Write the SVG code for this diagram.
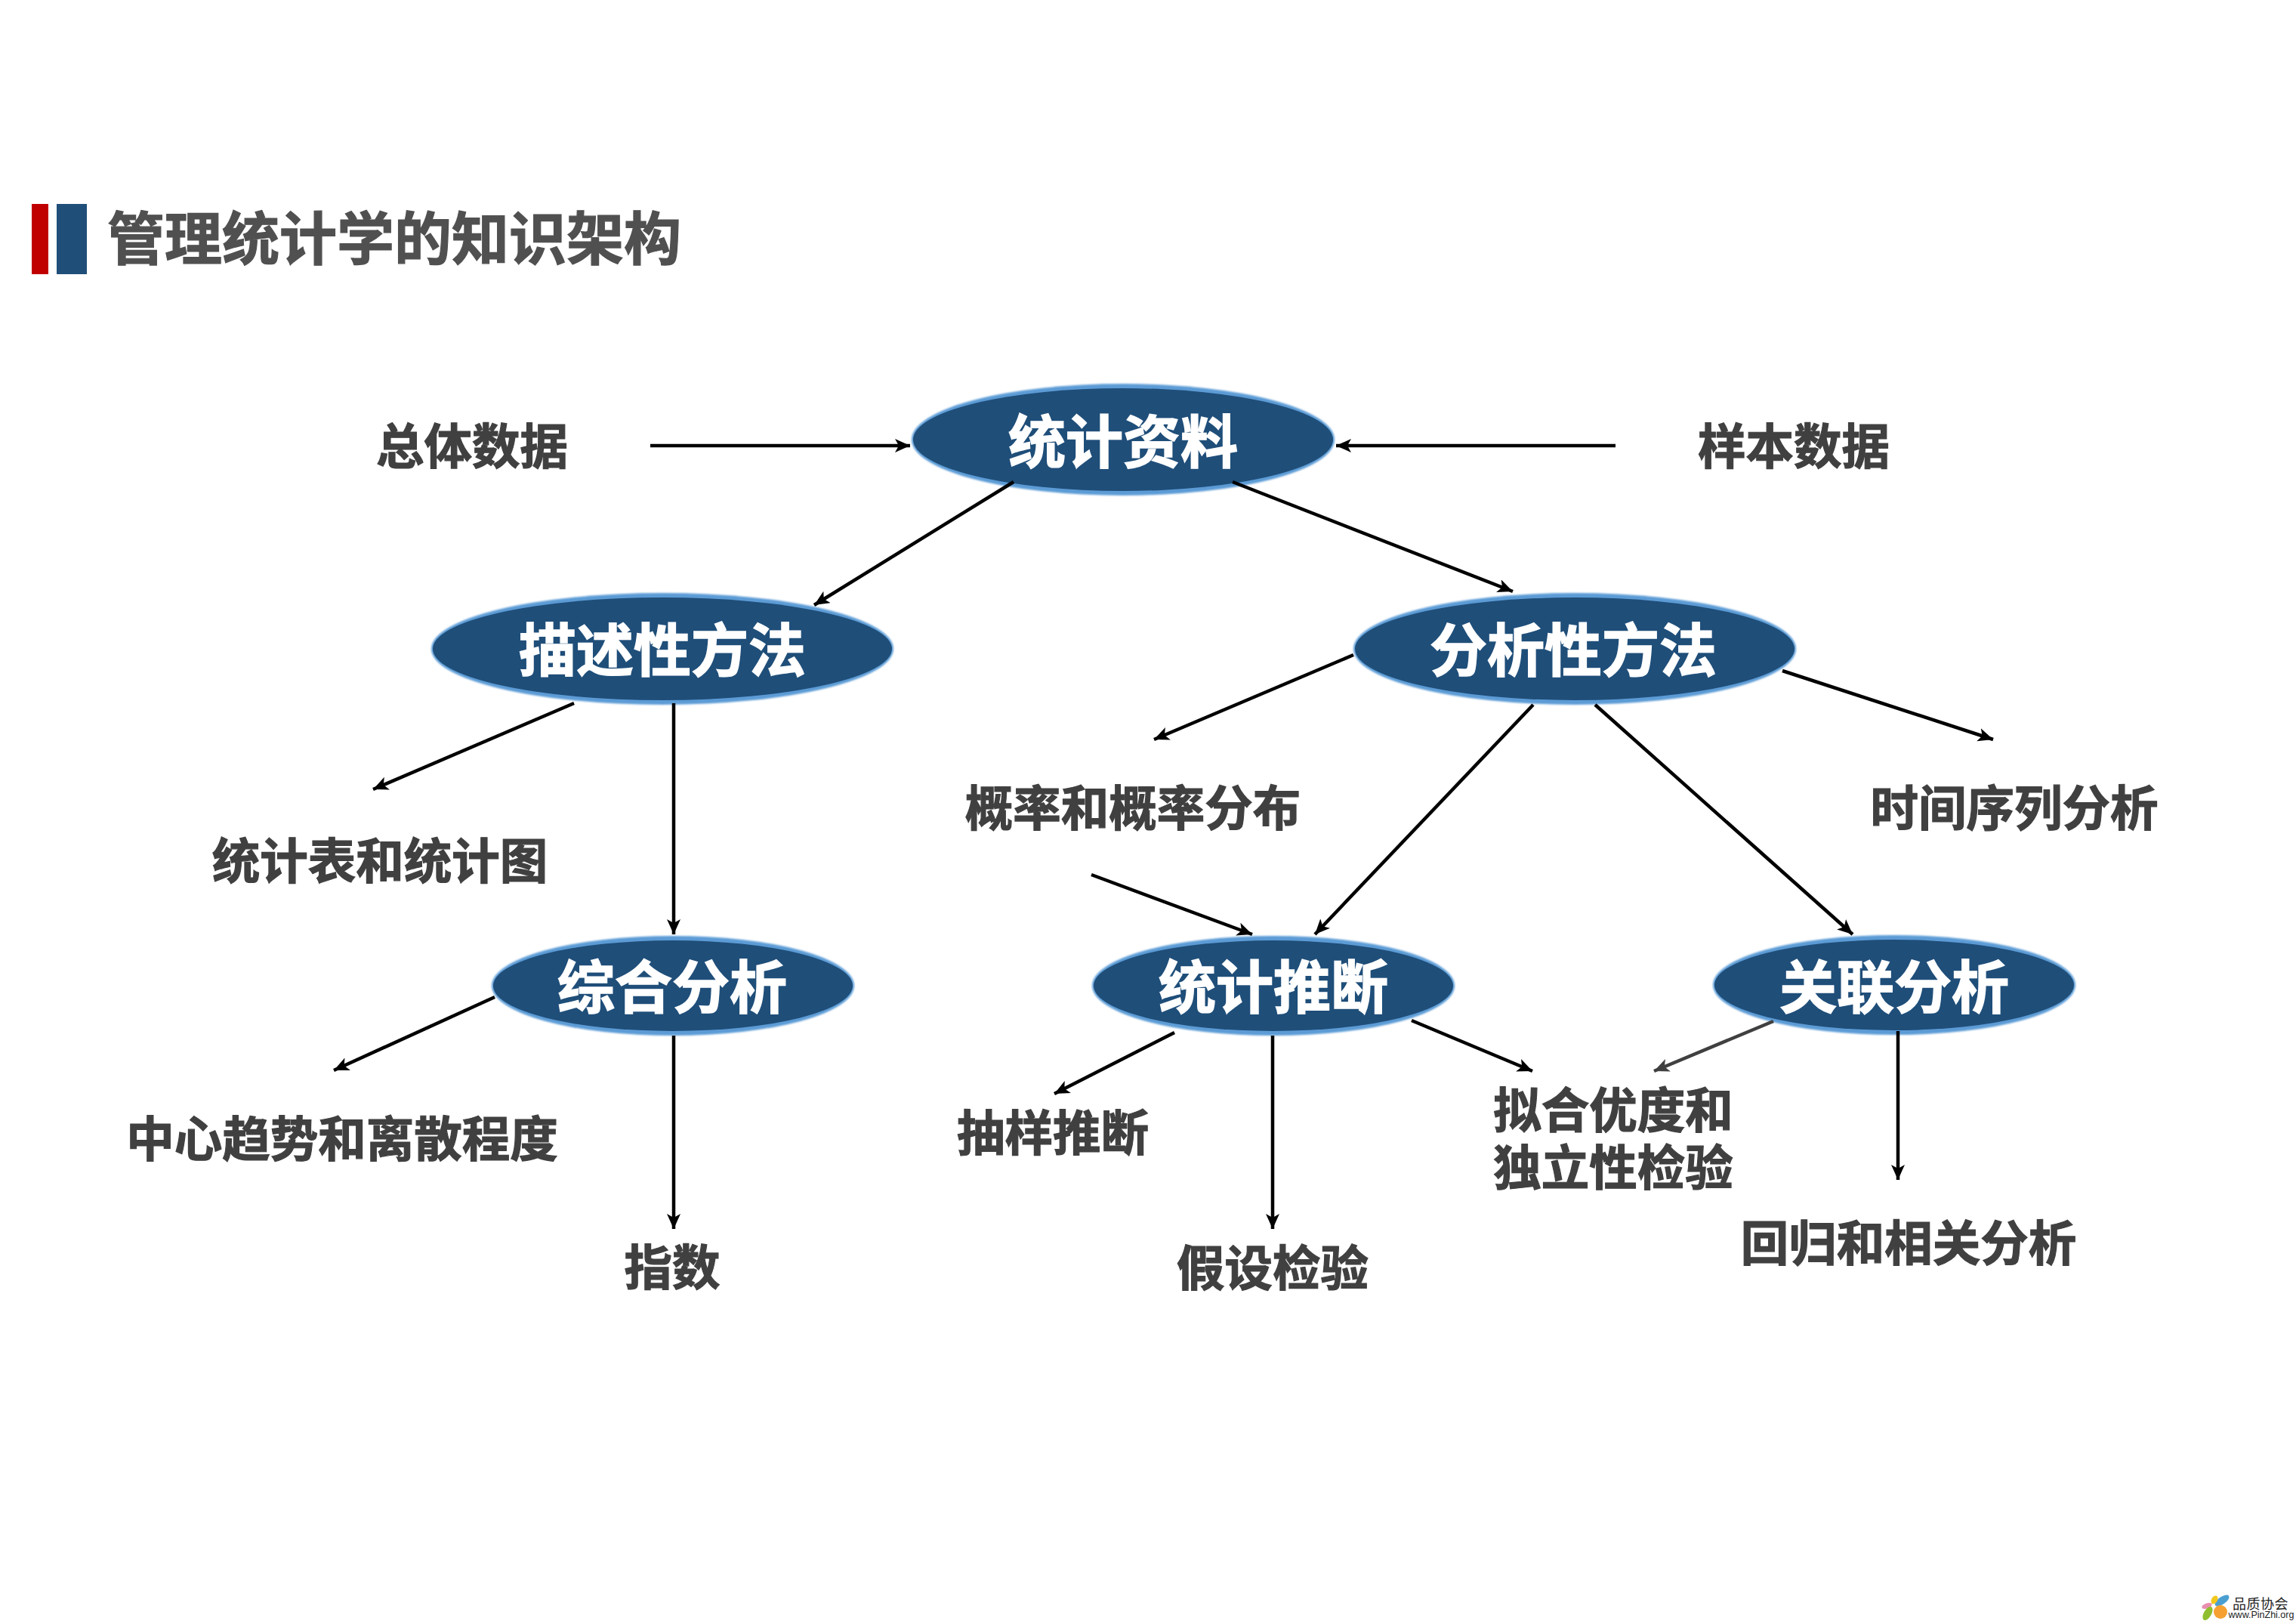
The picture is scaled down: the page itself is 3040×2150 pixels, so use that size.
<svg xmlns="http://www.w3.org/2000/svg" width="3040" height="2150" viewBox="0 0 3040 2150">
<defs>
<style>
text{font-family:"Noto Sans CJK SC","Noto Sans CJK JP",sans-serif;font-weight:700;text-anchor:middle}
.lbl{font-size:63.5px;fill:#404040;stroke:#404040;stroke-width:1.2px}
.hd{font-size:76px;fill:#fff;stroke:#fff;stroke-width:1.5px}
.ttl{font-size:76px;fill:#505050;stroke:#505050;stroke-width:1.2px;text-anchor:start}
.o{fill:#5b9bd5;filter:url(#s)}
.i{fill:#1f4e79}
.c{stroke:#000;stroke-width:4.5;fill:none;marker-end:url(#a)}
.g{stroke:#404040;marker-end:url(#b)}
</style>
<filter id="s" x="-5%" y="-10%" width="110%" height="120%"><feGaussianBlur stdDeviation="1.2"/></filter>
<marker id="a" markerUnits="userSpaceOnUse" markerWidth="24" markerHeight="20" refX="20" refY="9" orient="auto"><path d="M0 0L20 9L0 18L5 9Z" fill="#000"/></marker>
<marker id="b" markerUnits="userSpaceOnUse" markerWidth="24" markerHeight="20" refX="20" refY="9" orient="auto"><path d="M0 0L20 9L0 18L5 9Z" fill="#404040"/></marker>
</defs>
<rect width="3040" height="2150" fill="#fff"/>
<g id="title">
<rect x="42" y="270" width="22" height="93" fill="#c00000"/>
<rect x="75" y="270" width="40" height="93" fill="#1f4e79"/>
<text class="ttl" x="142" y="344">管理统计学的知识架构</text>
</g>
<g id="n-ziliao"><ellipse class="o" cx="1487" cy="582" rx="280" ry="74"/><ellipse class="i" cx="1487" cy="582" rx="278" ry="68"/><text class="hd" x="1487" y="613">统计资料</text></g>
<g id="n-miaoshu"><ellipse class="o" cx="877" cy="859" rx="306" ry="74"/><ellipse class="i" cx="877" cy="859" rx="304" ry="68"/><text class="hd" x="877" y="889">描述性方法</text></g>
<g id="n-fenxi"><ellipse class="o" cx="2085" cy="859" rx="293" ry="74"/><ellipse class="i" cx="2085" cy="859" rx="291" ry="68"/><text class="hd" x="2083" y="889">分析性方法</text></g>
<g id="n-zonghe"><ellipse class="o" cx="891" cy="1305" rx="240" ry="66"/><ellipse class="i" cx="891" cy="1305" rx="238" ry="60"/><text class="hd" x="890" y="1335">综合分析</text></g>
<g id="n-tuiduan"><ellipse class="o" cx="1686" cy="1305" rx="240" ry="66"/><ellipse class="i" cx="1686" cy="1305" rx="238" ry="60"/><text class="hd" x="1686" y="1335">统计推断</text></g>
<g id="n-guanlian"><ellipse class="o" cx="2508" cy="1304" rx="240" ry="66"/><ellipse class="i" cx="2508" cy="1304" rx="238" ry="60"/><text class="hd" x="2508" y="1335">关联分析</text></g>
<g id="connectors">
<path class="c" d="M861 590H1205"/>
<path class="c" d="M2139 590H1769"/>
<path class="c" d="M1342 638L1078 801"/>
<path class="c" d="M1632 638L2003 783"/>
<path class="c" d="M760 931L494 1045"/>
<path class="c" d="M892 931V1237"/>
<path class="c" d="M1792 867L1528 979"/>
<path class="c" d="M2360 888L2639 979"/>
<path class="c" d="M2030 933L1741 1237"/>
<path class="c" d="M2112 933L2453 1237"/>
<path class="c" d="M1445 1158L1658 1237"/>
<path class="c" d="M655 1320L442 1417"/>
<path class="c" d="M892 1371V1627"/>
<path class="c" d="M1555 1367L1396 1448"/>
<path class="c" d="M1685 1371V1627"/>
<path class="c" d="M1869 1351L2029 1418"/>
<path class="c g" d="M2348 1352L2190 1418"/>
<path class="c" d="M2513 1365V1562"/>
</g>
<g id="l-zongti"><text class="lbl" x="625" y="614">总体数据</text></g>
<g id="l-yangben"><text class="lbl" x="2375" y="614">样本数据</text></g>
<g id="l-tongjibiao"><text class="lbl" x="503" y="1163">统计表和统计图</text></g>
<g id="l-gailv"><text class="lbl" x="1500" y="1093">概率和概率分布</text></g>
<g id="l-shijian"><text class="lbl" x="2667" y="1093">时间序列分析</text></g>
<g id="l-zhongxin"><text class="lbl" x="453" y="1531">中心趋势和离散程度</text></g>
<g id="l-zhishu"><text class="lbl" x="890" y="1701">指数</text></g>
<g id="l-chouyang"><text class="lbl" x="1394" y="1523">抽样推断</text></g>
<g id="l-jiashe"><text class="lbl" x="1685" y="1702">假设检验</text></g>
<g id="l-nihe"><text class="lbl" x="2136" y="1493">拟合优度和</text><text class="lbl" x="2136" y="1569">独立性检验</text></g>
<g id="l-huigui"><text class="lbl" x="2527" y="1669">回归和相关分析</text></g>
<g id="watermark">
<ellipse cx="2942" cy="2119" rx="11" ry="5" fill="#4a9fd0" transform="rotate(-35 2942 2119)"/>
<ellipse cx="2932" cy="2118" rx="4" ry="6" fill="#f2c81e" transform="rotate(30 2932 2118)"/>
<ellipse cx="2922" cy="2126" rx="7" ry="3.5" fill="#e88fb0" transform="rotate(-20 2922 2126)"/>
<ellipse cx="2923" cy="2136" rx="5" ry="10" fill="#8fbf2f" transform="rotate(30 2923 2136)"/>
<circle cx="2940" cy="2134" r="9" fill="#f5a030"/>
<text x="2993" y="2130" style="font-family:'Noto Sans CJK SC',sans-serif;font-size:18px;font-weight:400;fill:#222;letter-spacing:0.5px">品质协会</text>
<text x="2994" y="2142" style="font-family:'Liberation Sans',sans-serif;font-size:12.5px;font-weight:400;fill:#222">www.PinZhi.org</text>
</g>
</svg>
